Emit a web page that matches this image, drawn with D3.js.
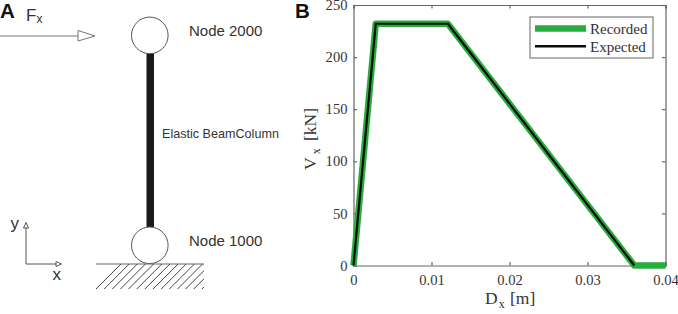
<!DOCTYPE html>
<html>
<head>
<meta charset="utf-8">
<script src="https://d3js.org/d3.v7.min.js"></script>
<style>
  html, body { margin: 0; padding: 0; background: #fff; }
  svg { display: block; }
  .sans { font-family: "Liberation Sans", Arial, sans-serif; fill: #333; }
  .serif { font-family: "Liberation Serif", "Times New Roman", serif; fill: #333; }
  .panel { font-family: "Liberation Sans", Arial, sans-serif; font-weight: bold; font-size: 20.5px; fill: #111; }
  .axis text { font-family: "Liberation Serif", "Times New Roman", serif; font-size: 14.6px; fill: #333; }
  .axis path, .axis line { stroke: #666; stroke-width: 1.2; }
</style>
</head>
<body>
<div id="chart"></div>
<script>
var width = 678;
var height = 314;

// force-displacement curves
var recordedX = [0, 0.00285, 0.0121, 0.036, 0.04];
var recordedY = [0, 232, 232, 0, 0];
var expectedX = [0, 0.00285, 0.0121, 0.036];
var expectedY = [0, 232, 232, 0];

var xTicks = [0, 0.01, 0.02, 0.03, 0.04];
var xTickLabels = ["0", "0.01", "0.02", "0.03", "0.04"];
var yTicks = [0, 50, 100, 150, 200, 250];
var legendNames = ["Recorded", "Expected"];
var nodeNames = ["Node 2000", "Node 1000"];

var green = "#27ad3c";

var svg = d3
  .select("#chart")
  .append("svg")
  .attr("width", width)
  .attr("height", height);

//panel letters
svg.append("text").attr("class", "panel").attr("x", 0).attr("y", 18).text("A");
svg.append("text").attr("class", "panel").attr("x", 295).attr("y", 18).text("B");

// ---- panel A, the column sketch ----
var sketch = svg.append("g");

sketch
  .append("rect")
  .attr("x", 146.5)
  .attr("y", 52)
  .attr("width", 7.5)
  .attr("height", 178)
  .attr("fill", "#1a1a1a");

sketch
  .selectAll("circle")
  .data([35.4, 245.3])
  .enter()
  .append("circle")
  .attr("cx", 149.8)
  .attr("cy", function(d) {
    return d;
  })
  .attr("r", 18.3)
  .attr("fill", "#fff")
  .attr("stroke", "#555")
  .attr("stroke-width", 1);

sketch
  .selectAll(".nodeName")
  .data(nodeNames)
  .enter()
  .append("text")
  .attr("class", "sans nodeName")
  .attr("x", 189)
  .attr("y", function(d, i) {
    return i === 0 ? 36 : 246;
  })
  .attr("font-size", 15)
  .text(function(d) {
    return d;
  });

sketch
  .append("text")
  .attr("class", "sans")
  .attr("x", 162)
  .attr("y", 138)
  .attr("font-size", 12.6)
  .text("Elastic BeamColumn");

//force arrow
sketch
  .append("line")
  .attr("x1", 0)
  .attr("x2", 78)
  .attr("y1", 36)
  .attr("y2", 36)
  .attr("stroke", "#777")
  .attr("stroke-width", 1);
sketch
  .append("path")
  .attr("d", "M78,30.5L95,36L78,41Z")
  .attr("fill", "#fff")
  .attr("stroke", "#777")
  .attr("stroke-width", 1);

var fx = sketch
  .append("text")
  .attr("class", "sans")
  .attr("x", 26)
  .attr("y", 21)
  .attr("font-size", 17);
fx.append("tspan").text("F");
fx.append("tspan").attr("font-size", 12).attr("dy", 2).text("x");

//ground and hatching
sketch
  .append("line")
  .attr("x1", 96)
  .attr("x2", 204)
  .attr("y1", 264)
  .attr("y2", 264)
  .attr("stroke", "#666")
  .attr("stroke-width", 1);

var clip = svg.append("clipPath").attr("id", "ground");
clip
  .append("rect")
  .attr("x", 96)
  .attr("y", 264)
  .attr("width", 108)
  .attr("height", 25);

sketch
  .append("g")
  .attr("clip-path", "url(#ground)")
  .selectAll("line")
  .data(d3.range(96, 240, 8.15))
  .enter()
  .append("line")
  .attr("x1", function(d) {
    return d;
  })
  .attr("x2", function(d) {
    return d + 25;
  })
  .attr("y1", 289)
  .attr("y2", 264)
  .attr("stroke", "#444")
  .attr("stroke-width", 1);

//x-y marker
sketch
  .append("path")
  .attr("d", "M26,264V226M26,264H57")
  .attr("fill", "none")
  .attr("stroke", "#555")
  .attr("stroke-width", 1);
sketch
  .append("path")
  .attr("d", "M23.5,228L26,222.5L28.5,228Z")
  .attr("fill", "#fff")
  .attr("stroke", "#555");
sketch
  .append("path")
  .attr("d", "M56,261.5L61.5,264L56,266.5Z")
  .attr("fill", "#fff")
  .attr("stroke", "#555");
sketch
  .append("text")
  .attr("class", "sans")
  .attr("x", 10.5)
  .attr("y", 229)
  .attr("font-size", 17)
  .text("y");
sketch
  .append("text")
  .attr("class", "sans")
  .attr("x", 52.5)
  .attr("y", 280)
  .attr("font-size", 17)
  .text("x");

// ---- panel B, the curves ----
var plotLeft = 353.5;
var plotRight = 665.5;
var plotTop = 5;
var plotBottom = 265.5;

var xScale = d3.scaleLinear().domain([0, 0.04]).range([plotLeft, plotRight]);
var yScale = d3.scaleLinear().domain([0, 250]).range([plotBottom, plotTop]);

var xAxis = d3
  .axisBottom(xScale)
  .tickValues(xTicks)
  .tickSize(-3.5)
  .tickPadding(9)
  .tickFormat(function(d, i) {
    return xTickLabels[i];
  });
var yAxis = d3
  .axisLeft(yScale)
  .tickValues(yTicks)
  .tickSize(-3.5)
  .tickPadding(6);

svg
  .append("g")
  .attr("class", "axis")
  .attr("transform", "translate(0," + plotBottom + ")")
  .call(xAxis);
svg
  .append("g")
  .attr("class", "axis")
  .attr("transform", "translate(" + plotLeft + ",0)")
  .call(yAxis);

//box on top and right, ticks only
svg
  .append("g")
  .attr("class", "axis")
  .attr("transform", "translate(0," + plotTop + ")")
  .call(d3.axisTop(xScale).tickValues(xTicks).tickSize(-3.5).tickFormat(""));
svg
  .append("g")
  .attr("class", "axis")
  .attr("transform", "translate(" + plotRight + ",0)")
  .call(d3.axisRight(yScale).tickValues(yTicks).tickSize(-3.5).tickFormat(""));

var line = d3
  .line()
  .x(function(d) {
    return xScale(d[0]);
  })
  .y(function(d) {
    return yScale(d[1]);
  });

svg
  .append("path")
  .attr("d", line(d3.zip(recordedX, recordedY)))
  .attr("fill", "none")
  .attr("stroke", green)
  .attr("stroke-width", 6.5)
  .attr("stroke-linejoin", "round");
svg
  .append("path")
  .attr("d", line(d3.zip(expectedX, expectedY)))
  .attr("fill", "none")
  .attr("stroke", "#0a0a0a")
  .attr("stroke-width", 2.2)
  .attr("stroke-linejoin", "round");

//axis titles
var xTitle = svg
  .append("text")
  .attr("class", "serif")
  .attr("x", 485)
  .attr("y", 304)
  .attr("font-size", 17.5);
xTitle.append("tspan").text("D");
xTitle.append("tspan").attr("font-size", 12).attr("dy", 4).attr("dx", 1).text("x");
xTitle.append("tspan").attr("dy", -4).attr("dx", 1).text(" [m]");

var yTitle = svg
  .append("text")
  .attr("class", "serif")
  .attr("transform", "translate(316,170)rotate(-90)")
  .attr("font-size", 17.5);
yTitle.append("tspan").text("V");
yTitle.append("tspan").attr("font-size", 12).attr("dy", 4).attr("dx", 3).text("x");
yTitle.append("tspan").attr("dy", -4).attr("dx", 3).text(" [kN]");

//legend
var legend = svg.append("g");
legend
  .append("rect")
  .attr("x", 530)
  .attr("y", 17)
  .attr("width", 123)
  .attr("height", 41)
  .attr("fill", "#fff")
  .attr("stroke", "#666")
  .attr("stroke-width", 1);

legend
  .selectAll("line")
  .data(legendNames)
  .enter()
  .append("line")
  .attr("x1", 535)
  .attr("x2", 586)
  .attr("y1", function(d, i) {
    return i === 0 ? 28.4 : 46.3;
  })
  .attr("y2", function(d, i) {
    return i === 0 ? 28.4 : 46.3;
  })
  .attr("stroke", function(d, i) {
    return i === 0 ? green : "#0a0a0a";
  })
  .attr("stroke-width", function(d, i) {
    return i === 0 ? 6.5 : 2.5;
  });

legend
  .selectAll("text")
  .data(legendNames)
  .enter()
  .append("text")
  .attr("class", "serif")
  .attr("x", 590)
  .attr("y", function(d, i) {
    return i === 0 ? 33.5 : 52;
  })
  .attr("font-size", 15)
  .text(function(d) {
    return d;
  });
</script>
</body>
</html>
